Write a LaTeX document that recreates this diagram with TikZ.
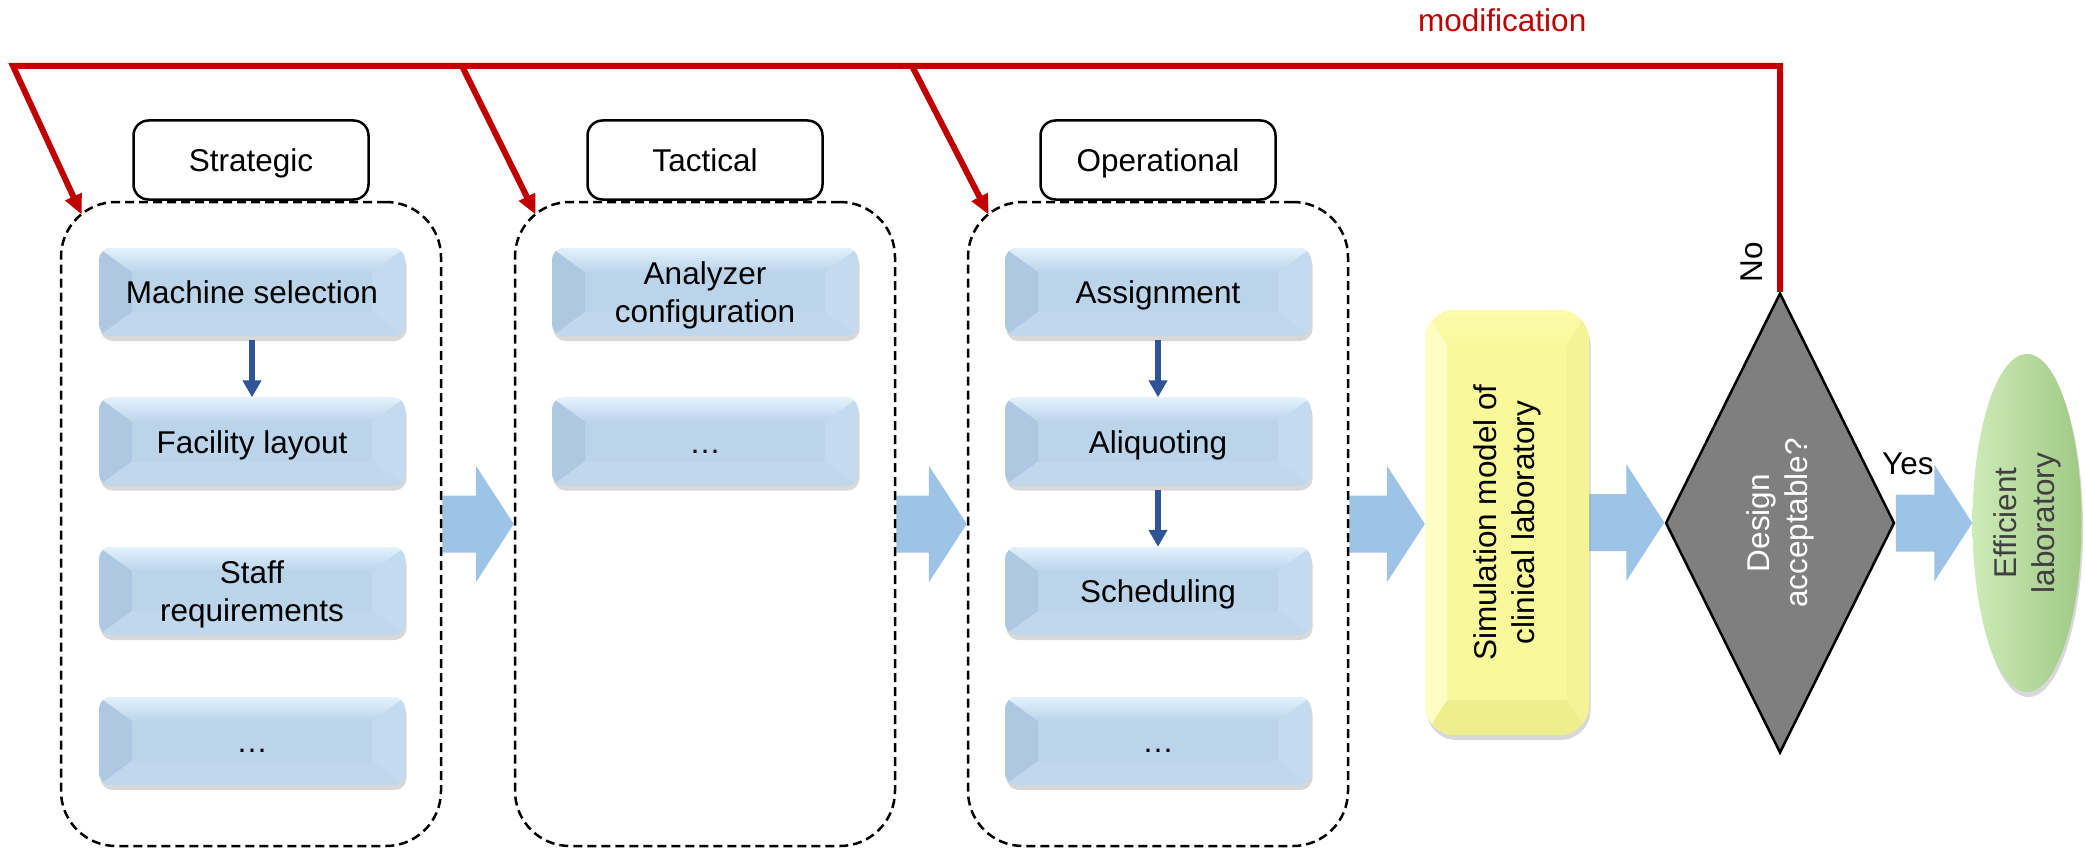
\documentclass[tikz,border=0pt]{standalone}
\usepackage{fontspec}
\setmainfont{Liberation Sans}
\usetikzlibrary{shapes.geometric,arrows.meta,shadows,calc,backgrounds}
\definecolor{redc}{HTML}{C00000}
\definecolor{barrowc}{HTML}{9DC3E6}
\definecolor{darkblue}{HTML}{2F5597}
\definecolor{boxmid}{HTML}{BBD4EA}
\definecolor{boxtop}{HTML}{E3F2FD}
\definecolor{boxleft}{HTML}{AEC8E1}
\definecolor{boxright}{HTML}{C4DAEF}
\definecolor{boxbot}{HTML}{C0D7EC}
\definecolor{ymid}{HTML}{F9F99C}
\definecolor{yleft}{HTML}{FDFDC4}
\definecolor{yright}{HTML}{F4F497}
\definecolor{ytop}{HTML}{FBFBAA}
\definecolor{ybot}{HTML}{EEEE8E}
\definecolor{gleft}{HTML}{CDEBB8}
\definecolor{gmid}{HTML}{AED595}
\definecolor{gright}{HTML}{A0C985}
\definecolor{diagray}{HTML}{7F7F7F}
\definecolor{elltext}{HTML}{404040}
\newcommand\bxfont{\fontsize{31.5}{38}\selectfont}
\newcommand\tstrut{\rule[-7pt]{0pt}{37pt}}
\newcommand\bevelfacets[7]{%
  \fill[#3,sharp corners] (path picture bounding box.north west)
     -- ([shift={(#1pt,-#2pt)}]path picture bounding box.north west)
     -- ([shift={(#1pt,#2pt)}]path picture bounding box.south west)
     -- (path picture bounding box.south west) -- cycle;
  \fill[#4,sharp corners] (path picture bounding box.north east)
     -- ([shift={(-#1pt,-#2pt)}]path picture bounding box.north east)
     -- ([shift={(-#1pt,#2pt)}]path picture bounding box.south east)
     -- (path picture bounding box.south east) -- cycle;
  \shade[top color=#5,bottom color=#7,sharp corners] (path picture bounding box.north west)
     -- (path picture bounding box.north east)
     -- ([shift={(-#1pt,-#2pt)}]path picture bounding box.north east)
     -- ([shift={(#1pt,-#2pt)}]path picture bounding box.north west) -- cycle;
  \fill[#6,sharp corners] (path picture bounding box.south west)
     -- (path picture bounding box.south east)
     -- ([shift={(-#1pt,#2pt)}]path picture bounding box.south east)
     -- ([shift={(#1pt,#2pt)}]path picture bounding box.south west) -- cycle;
}
\newcommand\blockarrow[2]{%
  \fill[barrowc] let \p1=(#1), \p2=(#2) in
   (\x1,\y1+28.5pt) -- (\x2-38pt,\y1+28.5pt) -- (\x2-38pt,\y1+58.5pt) -- (\x2,\y1)
   -- (\x2-38pt,\y1-58.5pt) -- (\x2-38pt,\y1-28.5pt) -- (\x1,\y1-28.5pt) -- cycle;}
\tikzset{
  softshadow/.style={drop shadow={shadow xshift=1.5pt,shadow yshift=-5pt,opacity=0.25,fill=black!60}},
  bluebox/.style={rectangle,rounded corners=12pt,minimum width=306pt,minimum height=88pt,
    inner sep=0pt,align=center,font=\bxfont,fill=boxmid,softshadow,
    path picture={\bevelfacets{33}{24}{boxleft}{boxright}{boxtop}{boxbot}{boxmid}}},
  container/.style={rectangle,draw,line width=2.5pt,dash pattern=on 9pt off 5pt,
    rounded corners=55pt,minimum width=380pt,minimum height=644pt,inner sep=0pt},
  labelbox/.style={draw,fill=white,line width=2.5pt,rounded corners=15pt,
    minimum width=235pt,minimum height=79pt,font=\bxfont,inner sep=0pt,anchor=south},
  simbox/.style={rectangle,rounded corners=30pt,minimum width=164pt,minimum height=425pt,
    inner sep=0pt,fill=ymid,softshadow,
    path picture={\bevelfacets{22}{35}{yleft}{yright}{ytop}{ybot}{ymid}}},
  decision/.style={diamond,shape aspect=0.5,draw,line width=2.5pt,fill=diagray,
    minimum width=229pt,minimum height=460pt,inner sep=0pt},
  endnode/.style={ellipse,minimum width=109pt,minimum height=338pt,inner sep=0pt,
    left color=gleft,middle color=gmid,right color=gright,softshadow},
  rottext/.style={rotate=90,align=center,font=\bxfont},
  flow/.style={draw=darkblue,line width=6pt,shorten <=4pt,-{Triangle[length=17pt,width=18pt]}},
  fb/.style={draw=redc,line width=6pt,line join=miter,-{Triangle[length=20pt,width=17pt]}},
}
\begin{document}
\begin{tikzpicture}[x=1pt,y=-1pt]
\useasboundingbox (0,0) rectangle (2086,848);

% containers
\node[container] (c1) at (251,524) {};
\node[container] (c2) at (705,524) {};
\node[container] (c3) at (1158,524) {};
\node[labelbox] (l1) at (c1.north) {\tstrut Strategic};
\node[labelbox] (l2) at (c2.north) {\tstrut Tactical};
\node[labelbox] (l3) at (c3.north) {\tstrut Operational};

% strategic
\node[bluebox] (ms) at (252,292) {\tstrut Machine selection};
\node[bluebox] (fl) at (252,441.5) {\tstrut Facility layout};
\node[bluebox] (sr) at (252,591) {\tstrut Staff\\\tstrut requirements};
\node[bluebox] (d1) at (252,741) {\tstrut…};
% tactical
\node[bluebox] (ac) at (705,292) {\tstrut Analyzer\\\tstrut configuration};
\node[bluebox] (d2) at (705,441.5) {\tstrut…};
% operational
\node[bluebox] (as) at (1158,292) {\tstrut Assignment};
\node[bluebox] (al) at (1158,441.5) {\tstrut Aliquoting};
\node[bluebox] (sc) at (1158,591) {\tstrut Scheduling};
\node[bluebox] (d3) at (1158,741) {\tstrut…};

\draw[flow] (ms) -- (fl);
\draw[flow] (as) -- (al);
\draw[flow] (al) -- (sc);

% simulation, decision, end
\node[simbox] (sim) at (1507,522.5) {};
\node[rottext] (simtxt) at (sim) {Simulation model of\\clinical laboratory};
\node[decision] (dia) at (1780,523) {};
\node[rottext,text=white] (diatxt) at (dia) {Design\\acceptable?};
\node[endnode] (eff) at (2027,523) {};
\node[rottext,text=elltext] (efftxt) at (eff) {Efficient\\laboratory};

% block arrows (behind everything, on white)
\begin{scope}[on background layer]
\fill[white] (0,0) rectangle (2086,848);
\blockarrow{c1.east}{c2.west}
\blockarrow{c2.east}{c3.west}
\blockarrow{c3.east}{sim.west}
\blockarrow{sim.east}{dia.west}
\blockarrow{dia.east}{eff.west}
\end{scope}

% labels
\node[anchor=base west,inner sep=0pt,font=\bxfont] (yeslbl) at (1882,474) {Yes};
\node[rotate=90,inner sep=0pt,font=\bxfont] (nolbl) at (1752,262) {No};
\node[anchor=base west,inner sep=0pt,font=\bxfont,text=redc] (modlbl) at (1418,32) {modification};

% feedback path
\coordinate (tr) at (1780,66);
\coordinate (tl) at (13,66);
\coordinate (j2) at (462,66);
\coordinate (j3) at (912,66);
\coordinate (t1) at ($(c1.north west)+(22,14)$);
\coordinate (t2) at ($(c2.north west)+(22,14)$);
\coordinate (t3) at ($(c3.north west)+(22,14)$);
\draw[fb] (dia.north) -- (tr) -- (tl) -- (t1);
\draw[fb] (j2) -- (t2);
\draw[fb] (j3) -- (t3);
\end{tikzpicture}
\end{document}
